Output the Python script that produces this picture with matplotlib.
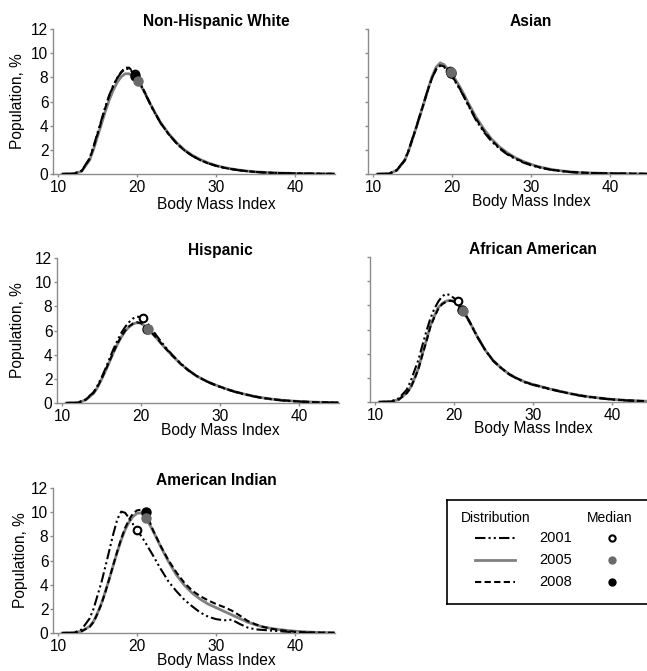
import matplotlib
matplotlib.use("Agg")
import matplotlib.pyplot as plt

plt.rcParams['font.family'] = ['Liberation Sans', 'DejaVu Sans']

# BMI grid shared by every curve
bmi = [10.5, 12, 13, 14, 14.5, 15, 15.5, 16, 16.5, 17, 17.5, 18, 18.5, 19, 19.5,
       20, 20.5, 21, 21.5, 22, 23, 24, 25, 26, 27, 28, 29, 30, 31, 32, 33, 34,
       35, 36, 37, 38, 40, 42, 45]

# Population, %
nhw_2001 = [0, 0.03, 0.28, 1.3, 2.3, 3.4, 4.5, 5.6, 6.55, 7.35, 7.95, 8.4, 8.7, 8.7, 8.4,
            7.95, 7.35, 6.7, 6.0, 5.35, 4.2, 3.3, 2.55, 1.95, 1.5, 1.15, 0.88, 0.68, 0.52,
            0.4, 0.3, 0.23, 0.17, 0.13, 0.1, 0.08, 0.05, 0.03, 0.01]
nhw_2005 = [0, 0.02, 0.22, 1.15, 2.05, 3.1, 4.15, 5.2, 6.15, 6.95, 7.6, 8.05, 8.3, 8.3, 8.1,
            7.75, 7.3, 6.7, 6.05, 5.4, 4.25, 3.35, 2.6, 2.0, 1.55, 1.2, 0.92, 0.7, 0.54,
            0.42, 0.32, 0.24, 0.18, 0.14, 0.11, 0.08, 0.05, 0.03, 0.01]
nhw_2008 = [0, 0.03, 0.25, 1.25, 2.2, 3.3, 4.4, 5.5, 6.5, 7.3, 7.95, 8.45, 8.8, 8.8, 8.45,
            8.0, 7.4, 6.75, 6.05, 5.4, 4.2, 3.3, 2.55, 1.95, 1.5, 1.15, 0.88, 0.68, 0.52,
            0.4, 0.3, 0.23, 0.17, 0.13, 0.1, 0.08, 0.05, 0.03, 0.01]

asian_2001 = [0, 0.03, 0.32, 1.15, 1.95, 2.95, 3.95, 5.0, 6.05, 7.1, 8.0, 8.65, 8.95, 8.85, 8.5,
              8.05, 7.55, 7.0, 6.4, 5.75, 4.5, 3.5, 2.7, 2.1, 1.62, 1.25, 0.95, 0.72, 0.55,
              0.41, 0.3, 0.22, 0.16, 0.12, 0.09, 0.07, 0.05, 0.03, 0.01]
asian_2005 = [0, 0.02, 0.3, 1.1, 1.9, 2.9, 3.9, 4.95, 6.0, 7.1, 8.1, 8.85, 9.2, 9.05, 8.65,
              8.2, 7.75, 7.2, 6.6, 5.95, 4.75, 3.75, 2.9, 2.25, 1.75, 1.35, 1.05, 0.8, 0.6,
              0.45, 0.33, 0.25, 0.18, 0.13, 0.1, 0.08, 0.05, 0.03, 0.01]
asian_2008 = [0, 0.02, 0.3, 1.1, 1.9, 2.9, 3.9, 4.95, 6.0, 7.05, 8.0, 8.7, 9.0, 8.9, 8.55,
              8.1, 7.6, 7.05, 6.45, 5.8, 4.6, 3.6, 2.8, 2.15, 1.68, 1.3, 1.0, 0.76, 0.57,
              0.43, 0.32, 0.24, 0.17, 0.13, 0.1, 0.07, 0.05, 0.03, 0.01]

hisp_2001 = [0, 0.03, 0.3, 0.9, 1.45, 2.1, 2.85, 3.65, 4.45, 5.15, 5.8, 6.3, 6.7, 7.0, 7.15,
             7.1, 6.85, 6.45, 6.0, 5.55, 4.7, 3.95, 3.3, 2.72, 2.25, 1.88, 1.58, 1.32, 1.1,
             0.9, 0.73, 0.58, 0.45, 0.35, 0.27, 0.2, 0.12, 0.06, 0.02]
hisp_2005 = [0, 0.02, 0.25, 0.8, 1.3, 1.95, 2.65, 3.4, 4.15, 4.85, 5.45, 5.95, 6.3, 6.55, 6.65,
             6.6, 6.35, 6.05, 5.7, 5.35, 4.6, 3.9, 3.25, 2.7, 2.25, 1.9, 1.6, 1.35, 1.12,
             0.92, 0.75, 0.6, 0.47, 0.37, 0.29, 0.22, 0.13, 0.07, 0.03]
hisp_2008 = [0, 0.02, 0.27, 0.85, 1.35, 2.0, 2.7, 3.45, 4.2, 4.9, 5.5, 6.0, 6.35, 6.58, 6.68,
             6.62, 6.38, 6.08, 5.72, 5.36, 4.6, 3.9, 3.25, 2.7, 2.25, 1.9, 1.6, 1.35, 1.12,
             0.92, 0.75, 0.6, 0.47, 0.37, 0.29, 0.22, 0.13, 0.07, 0.03]

afam_2001 = [0, 0.04, 0.3, 1.0, 1.7, 2.6, 3.5, 4.7, 5.85, 6.9, 7.7, 8.3, 8.75, 8.95, 8.85,
             8.6, 8.3, 7.75, 7.2, 6.62, 5.35, 4.25, 3.38, 2.78, 2.28, 1.92, 1.62, 1.42, 1.25,
             1.08, 0.93, 0.78, 0.64, 0.52, 0.42, 0.34, 0.2, 0.12, 0.05]
afam_2005 = [0, 0.03, 0.2, 0.75, 1.2, 1.95, 2.8, 4.0, 5.1, 6.3, 7.1, 7.8, 8.15, 8.35, 8.42,
             8.35, 8.1, 7.65, 7.15, 6.6, 5.35, 4.25, 3.4, 2.8, 2.3, 1.95, 1.65, 1.45, 1.28,
             1.1, 0.95, 0.8, 0.66, 0.54, 0.44, 0.36, 0.22, 0.13, 0.05]
afam_2008 = [0, 0.03, 0.2, 0.72, 1.15, 1.9, 2.75, 3.9, 5.0, 6.2, 7.0, 7.7, 8.1, 8.3, 8.38,
             8.32, 8.08, 7.63, 7.13, 6.58, 5.33, 4.25, 3.4, 2.8, 2.3, 1.95, 1.65, 1.45, 1.28,
             1.1, 0.95, 0.8, 0.66, 0.54, 0.44, 0.36, 0.22, 0.13, 0.05]

amin_2001 = [0, 0.02, 0.3, 1.2, 2.0, 3.1, 4.2, 5.5, 6.85, 8.2, 9.4, 10.05, 9.95, 9.5, 9.0,
             8.55, 8.05, 7.55, 7.0, 6.45, 5.3, 4.25, 3.45, 2.75, 2.2, 1.7, 1.35, 1.15, 1.05,
             1.1, 0.75, 0.45, 0.3, 0.25, 0.2, 0.15, 0.06, 0.03, 0.01]
amin_2005 = [0, 0.02, 0.15, 0.55, 0.95, 1.65, 2.45, 3.45, 4.5, 5.6, 6.7, 7.7, 8.55, 9.2, 9.65,
             9.9, 9.95, 9.6, 9.1, 8.5, 7.15, 5.9, 4.8, 3.95, 3.3, 2.8, 2.4, 2.1, 1.8,
             1.5, 1.2, 0.9, 0.68, 0.5, 0.38, 0.28, 0.15, 0.07, 0.02]
amin_2008 = [0, 0.02, 0.15, 0.5, 0.9, 1.6, 2.4, 3.4, 4.5, 5.65, 6.75, 7.8, 8.7, 9.4, 9.9,
             10.15, 10.2, 10.0, 9.4, 8.55, 7.2, 6.0, 5.0, 4.15, 3.5, 3.05, 2.7, 2.4, 2.15,
             1.85, 1.45, 1.0, 0.72, 0.5, 0.35, 0.25, 0.1, 0.04, 0.01]

# medians (BMI, population %) for 2001, 2005, 2008
med_bmi_nhw = [19.7, 20.1, 19.8]
med_pop_nhw = [8.25, 7.7, 8.15]
med_bmi_asian = [19.8, 19.9, 19.9]
med_pop_asian = [8.5, 8.45, 8.35]
med_bmi_hisp = [20.3, 20.85, 20.8]
med_pop_hisp = [7.0, 6.1, 6.12]
med_bmi_afam = [20.5, 21.1, 21.05]
med_pop_afam = [8.35, 7.55, 7.6]
med_bmi_amin = [20.0, 21.1, 21.1]
med_pop_amin = [8.55, 9.5, 10.0]

years = ['2001', '2005', '2008']
titles = ['Non-Hispanic White', 'Asian', 'Hispanic', 'African American', 'American Indian']

W, H = 647, 671
PX = 7.9        # pixels per BMI unit
PY = 12.08      # pixels per population %
XMIN = 9.4
GRAY = '#808080'
AXCOL = '#8c8c8c'
FS = 11.2

line_styles = [
    dict(color='black', lw=1.5, ls=(0, (5, 1.5, 1, 1.5, 1, 1.5)), zorder=4),
    dict(color=GRAY, lw=2.0, ls='-', zorder=2),
    dict(color='black', lw=1.5, ls=(0, (3, 1.6)), zorder=3),
]
marker_styles = [
    dict(marker='o', ms=5.5, mfc='white', mec='black', mew=1.5, zorder=5),
    dict(marker='o', ms=6.5, mfc='#6a6a6a', mec='#6a6a6a', zorder=6),
    dict(marker='o', ms=6.5, mfc='black', mec='black', zorder=5.5),
]

fig = plt.figure(figsize=(W / 100, H / 100), dpi=100)


def panel(x10, y0, xmax, show_labels, xlab_off, ylab_right):
    left = x10 - (10 - XMIN) * PX
    width = (xmax - XMIN) * PX
    height = 12 * PY
    ax = fig.add_axes([left / W, (H - y0) / H, width / W, height / H])
    ax.set_xlim(XMIN, xmax)
    ax.set_ylim(0, 12)
    for s in ['top', 'right']:
        ax.spines[s].set_visible(False)
    for s in ['left', 'bottom']:
        ax.spines[s].set_color(AXCOL)
        ax.spines[s].set_linewidth(1.0)
    ax.set_xticks([10, 20, 30, 40])
    ax.set_yticks([0, 2, 4, 6, 8, 10, 12])
    ax.tick_params(axis='both', colors=AXCOL, labelcolor='black', labelsize=FS,
                   length=2.5, width=1.0, direction='out')
    ax.tick_params(axis='x', pad=1.5)
    ax.tick_params(axis='y', pad=1)
    if not show_labels:
        ax.set_yticklabels([])
    frac = (30 - XMIN) / (xmax - XMIN)
    ax.set_xlabel('Body Mass Index', fontsize=FS)
    ax.xaxis.set_label_coords(frac, -xlab_off / height)
    if show_labels:
        ax.set_ylabel('Population, %', fontsize=FS)
        ax.yaxis.set_label_coords((ylab_right - left) / width, 0.5)
    return ax, frac


groups = [
    ([nhw_2001, nhw_2005, nhw_2008], med_bmi_nhw, med_pop_nhw, (58, 174, 45, True, 23, 25)),
    ([asian_2001, asian_2005, asian_2008], med_bmi_asian, med_pop_asian, (373, 174, 50, False, 20, 0)),
    ([hisp_2001, hisp_2005, hisp_2008], med_bmi_hisp, med_pop_hisp, (62, 403, 45, True, 19.5, 25)),
    ([afam_2001, afam_2005, afam_2008], med_bmi_afam, med_pop_afam, (375, 402, 50, False, 19.5, 0)),
    ([amin_2001, amin_2005, amin_2008], med_bmi_amin, med_pop_amin, (58, 633, 45, True, 19.5, 28)),
]

for title, (curves, mb, mp, geo) in zip(titles, groups):
    ax, frac = panel(*geo)
    for vals, st in zip(curves, line_styles):
        ax.plot(bmi, vals, color=st['color'], lw=st['lw'], ls=st['ls'],
                zorder=st['zorder'], solid_capstyle='round')
    for i in range(3):
        ax.plot([mb[i]], [mp[i]], ls='none', **marker_styles[i])
    ax.set_title(title, fontsize=FS, fontweight='bold', x=frac, pad=1)

# legend box
lx0, lx1, ly0, ly1 = 447, 700, 500, 604
lax = fig.add_axes([lx0 / W, (H - ly1) / H, (lx1 - lx0) / W, (ly1 - ly0) / H])
lax.set_xlim(lx0, lx1)
lax.set_ylim(ly1, ly0)
lax.set_xticks([])
lax.set_yticks([])
for s in lax.spines.values():
    s.set_color('black')
    s.set_linewidth(1.2)
LFS = 10
lax.text(461, 518, 'Distribution', fontsize=LFS, va='center', ha='left')
lax.text(610, 518, 'Median', fontsize=LFS, va='center', ha='center')
rows = [538, 560, 582]
for i, y in enumerate(rows):
    st = line_styles[i]
    lax.plot([475, 515], [y, y], color=st['color'], lw=st['lw'], ls=st['ls'])
    lax.text(539, y, years[i], fontsize=10.5, va='center', ha='left')
    ms = dict(marker_styles[i])
    ms['ms'] = 5.0 if i else 4.5
    lax.plot([612], [y], ls='none', **ms)

fig.savefig('out.png', dpi=100)
